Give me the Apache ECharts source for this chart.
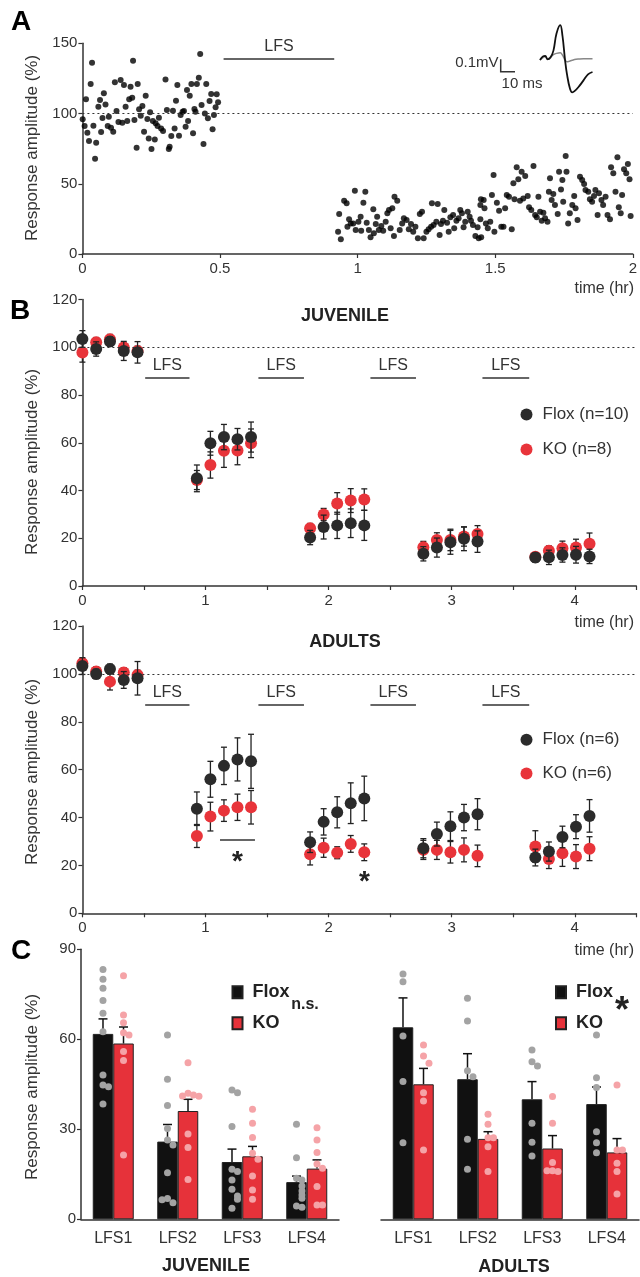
<!DOCTYPE html>
<html>
<head>
<meta charset="utf-8">
<script src="https://cdn.jsdelivr.net/npm/echarts@6/dist/echarts.min.js"></script>
<style>
  html, body { margin: 0; padding: 0; background: #fff; }
  #chart { width: 640px; height: 1277px; }
</style>
</head>
<body>
<div id="chart"></div>
<script>
// ---------- panel A: single experiment, [time (hr), amplitude (%)] ----------
const aBaseline = [
  [0.001,95.9],[0.008,91.1],[0.013,110.1],[0.018,86.3],[0.024,80.4],[0.030,121],[0.035,136.2],[0.040,91.3],
  [0.046,67.8],[0.050,79.2],[0.058,104.8],[0.064,109.6],[0.068,86.8],[0.073,96.8],[0.078,114.4],[0.084,106.5],
  [0.092,91.1],[0.096,97.7],[0.104,89.9],[0.112,87.0],[0.118,122.2],[0.124,101.8],[0.131,93.9],[0.139,123.8],
  [0.145,93.5],[0.151,120.3],[0.157,104.8],[0.163,94.7],[0.170,110.1],[0.175,119.1],[0.181,111.2],[0.184,137.6],
  [0.189,95.4],[0.197,75.7],[0.201,121],[0.206,103],[0.212,98.4],[0.218,105.3],[0.224,87],[0.230,112.7],
  [0.236,96.1],[0.241,82.3],[0.246,100.9],[0.251,74.7],[0.256,94.7],[0.263,81.6],[0.266,93],[0.273,91.1],
  [0.278,97],[0.286,89.4],[0.293,87.5],[0.302,124.3],[0.307,102.5],[0.314,74.7],[0.317,76.4],[0.323,84],
  [0.329,102],[0.335,89.4],[0.340,109.1],[0.345,120.3],[0.351,84.2],[0.357,98.9],[0.364,101.3],[0.369,101.8],
  [0.375,90.6],[0.380,116.7],[0.384,94.7],[0.390,112.7],[0.396,121],[0.402,85.9],[0.407,103.2],[0.411,101.3],
  [0.416,121],[0.423,125.5],[0.428,142.3],[0.433,106],[0.440,78.3],[0.445,100.1],[0.450,121],[0.456,96.6],
  [0.462,108.9],[0.468,113.9],[0.473,88.8],[0.478,98.9],[0.484,104.4],[0.488,113.7],[0.493,108]
];
const aAfter = [
  [0.933,28.5],[0.929,15.9],[0.939,10.5],[0.951,37.9],[0.960,36.1],[0.969,24.7],[0.975,21.8],[0.963,19.4],
  [0.990,45.1],[0.984,21.8],[0.993,17.1],[1.003,23],[1.011,26.5],[1.013,16.6],[1.021,36.5],[1.028,44.3],
  [1.033,22.3],[1.041,17.1],[1.047,11.9],[1.057,31.8],[1.059,14.7],[1.066,21.4],[1.071,26.5],[1.077,17.1],
  [1.086,19.9],[1.093,16.6],[1.102,23],[1.108,29],[1.114,31.3],[1.120,18.3],[1.126,32.5],[1.132,12.8],
  [1.134,40.8],[1.144,37.9],[1.153,17.1],[1.162,21.8],[1.168,25.4],[1.178,24.2],[1.186,17.6],[1.194,21.4],
  [1.202,15.9],[1.210,19.4],[1.219,11.2],[1.226,28.5],[1.234,30.1],[1.240,11.2],[1.250,15.9],[1.258,17.6],
  [1.267,19.4],[1.270,36.1],[1.276,20.6],[1.286,23],[1.291,35.6],[1.298,13.5],[1.303,21.4],[1.310,23.7],
  [1.315,31.3],[1.325,22.3],[1.331,15.9],[1.337,26.1],[1.347,27.8],[1.351,18.3],[1.359,23.7],[1.367,25.4],
  [1.373,31.3],[1.379,29],[1.385,19],[1.391,23],[1.400,30.1],[1.407,26.5],[1.412,23.7],[1.419,20.6],
  [1.428,12.8],[1.436,19],[1.440,11.2],[1.446,34.9],[1.448,38.9],[1.446,24.7],[1.449,11.9],[1.458,38.4],
  [1.461,32.5],[1.466,21.8],[1.473,18.3],[1.482,23],[1.488,42],[1.494,56.2],[1.497,15.9],[1.506,36.5],
  [1.514,30.8],[1.522,19.4],[1.530,19.4],[1.536,32.5],[1.542,42],[1.550,40.8],[1.560,17.6],[1.566,50.3],
  [1.570,38.9],[1.578,61.7],[1.584,53.2],[1.590,37.9],[1.596,58.6],[1.602,39.6],[1.609,55.5],[1.618,41.3],
  [1.623,33.2],[1.631,31.3],[1.639,62.6],[1.645,27.8],[1.651,26.1],[1.657,40.8],[1.663,30.1],[1.669,23.7],
  [1.675,29.4],[1.681,25.4],[1.690,23],[1.695,44.3],[1.699,53.9],[1.705,38.4],[1.711,42.7],[1.717,34.9],
  [1.727,28.5],[1.732,58.6],[1.739,46],[1.744,52.7],[1.747,37.2],[1.756,69.8],[1.759,58.6],[1.765,21.8],
  [1.771,29],[1.780,34.9],[1.787,41.3],[1.792,32.5],[1.799,24.2],[1.808,55],[1.816,52.7],[1.823,49.8],
  [1.828,45.6],[1.838,44.3],[1.844,38.9],[1.852,37.2],[1.859,41.3],[1.864,45.6],[1.872,27.8],[1.877,43.2],
  [1.886,38.4],[1.892,34.9],[1.901,40.8],[1.908,27.8],[1.917,24.7],[1.921,61.7],[1.929,57.4],[1.937,44.3],
  [1.944,68.8],[1.949,33.2],[1.956,29],[1.961,42],[1.968,60.3],[1.976,57.4],[1.982,64.1],[1.988,53.2],[1.992,27]
];
// example field potential traces (ms, mV)
const traceT     = [0, 2, 3.5, 5, 7, 9, 11, 13.5, 15, 16.7, 18, 20, 21.5, 23, 26, 29, 32, 35];
const traceBlack = [0, 0.03, 0.035, 0.005, 0.02, 0.08, 0.22, 0.29, 0.2, 0, -0.12, -0.24, -0.27, -0.26, -0.22, -0.17, -0.12, -0.1];
const traceGray  = [0, 0.02, 0.03, 0.01, 0.025, 0.045, 0.055, 0.06, 0.04, 0.0, -0.015, -0.008, -0.002, 0.004, 0.008, 0.01, 0.01, 0.01];

// ---------- panel B: group means +/- SEM ----------
const bTimes = [0, 0.112, 0.224, 0.336, 0.448, 0.93, 1.04, 1.15, 1.26, 1.37, 1.85, 1.96, 2.07, 2.18, 2.29,
                2.77, 2.88, 2.99, 3.10, 3.21, 3.68, 3.79, 3.90, 4.01, 4.12];
const juvFlox    = [103.5, 99.3, 102.4, 98.5, 97.9, 45.1, 59.8, 62.4, 61.5, 62.4, 20.3, 24.7, 25.4, 26.3, 25.4, 13.5, 16.1, 18.3, 19.8, 18.6, 11.9, 12.0, 13.0, 13.1, 12.4];
const juvFloxErr = [3.5, 3, 2, 4, 4.5, 5.6, 5, 5.3, 4.5, 6.3, 3, 5, 5.5, 6, 6.3, 3, 4, 5, 5, 4.5, 2, 3, 3, 3.5, 3];
const juvKO      = [97.8, 102.1, 103.4, 99.9, 98.5, 44.4, 50.7, 56.7, 56.8, 59.8, 24.2, 30.0, 34.6, 35.8, 36.2, 16.2, 19.3, 19.3, 20.7, 21.8, 12.3, 14.8, 15.8, 16.1, 17.7];
const juvKOErr   = [4, 2, 2, 2, 2, 4, 5.5, 7, 6, 6, 2, 2.5, 4.5, 5, 4.5, 2.5, 3, 4.5, 4, 3.5, 1.5, 2, 3, 3.5, 4.5];
const adFlox     = [103.3, 100.0, 102.1, 97.5, 98.2, 43.7, 56.0, 61.6, 64.3, 63.5, 29.7, 38.2, 42.2, 46.0, 48.0, 27.2, 33.1, 36.4, 40.0, 41.4, 23.3, 25.8, 31.9, 36.2, 40.7];
const adFloxErr  = [3.5, 2, 2, 3.5, 7, 7, 7.5, 7.8, 9, 11.3, 4.3, 5.5, 6.5, 8.5, 9.3, 4, 5, 6, 5.5, 6.5, 3.5, 4, 4.5, 5, 6.8];
const adKO       = [104.5, 101.0, 96.8, 100.6, 99.6, 32.3, 40.4, 42.9, 44.3, 44.3, 24.7, 27.4, 25.3, 29.0, 25.5, 26.5, 26.5, 25.5, 26.5, 24.0, 27.9, 22.7, 25.1, 23.7, 27.0];
const adKOErr    = [2, 2, 3.5, 2, 2, 4.8, 6, 4.5, 5.5, 7, 4.5, 4, 2.5, 3.5, 3.5, 4, 4, 4.5, 5, 4.5, 6.6, 4, 5.5, 5, 5];
const lfsStart = [0.51, 1.43, 2.34, 3.25];
const lfsEnd   = [0.87, 1.80, 2.71, 3.63];

// ---------- panel C: mean per LFS + individual slices ----------
const cCats = ['LFS1', 'LFS2', 'LFS3', 'LFS4'];
const cJuvFlox    = [61.8, 25.9, 19.1, 12.4];
const cJuvFloxErr = [5.0, 5.7, 4.3, 2.0];
const cJuvKO      = [58.6, 36.1, 21.0, 16.9];
const cJuvKOErr   = [5.5, 3.9, 3.3, 2.9];
const cAdFlox     = [64.0, 46.7, 40.0, 38.4];
const cAdFloxErr  = [9.8, 8.5, 5.9, 5.7];
const cAdKO       = [45.0, 26.8, 23.6, 22.3];
const cAdKOErr    = [5.3, 2.4, 4.3, 4.6];
const dotsJuvFlox = [
  [83.3, 80, 77, 72.9, 68.7, 62.5, 48.1, 44.8, 44.2, 38.4],
  [61.4, 46.7, 37.9, 30.3, 26.4, 24.8, 15.5, 6.9, 5.5, 6.5],
  [43.1, 42.2, 30.9, 16.7, 15.9, 13.1, 10, 7.8, 6.7, 3.7],
  [31.7, 20.5, 13.7, 13.1, 11.1, 9.4, 8.1, 7, 4.4, 4]
];
const dotsJuvKO = [
  [81.2, 68.1, 65.5, 62.2, 61.4, 55.9, 52.9, 21.4],
  [52.2, 42, 41.4, 41.1, 41, 28.4, 23.9, 13.3],
  [36.7, 32, 27.3, 22, 20, 14.4, 9.8, 6.7],
  [30.5, 26.4, 22.3, 18.4, 17, 10.9, 4.8, 4.8]
];
const dotsAdFlox = [
  [90.3, 81.8, 79.2, 61.1, 45.9, 25.5],
  [73.7, 66.1, 49.5, 47.5, 26.7, 16.7],
  [56.4, 52.5, 51.1, 32, 25.7, 21.1],
  [61.4, 47.2, 43.9, 29.2, 25.5, 22.2]
];
const dotsAdKO = [
  [58.1, 54.4, 52, 42.2, 39.4, 23.1],
  [35, 31.7, 27.2, 27.2, 24.2, 15.9],
  [40.9, 32, 18.9, 16.2, 15.9, 16.2],
  [44.8, 23.1, 23.1, 18.7, 15.9, 8.4]
];

// ---------- styling ----------
const FONT = "'Liberation Sans Narrow', 'Liberation Sans', Arial, sans-serif";
const INK = '#333';
const BLACK = '#2b2b2b';
const RED = '#e8343a';
const BAR_OFF = 0.159;   // half a bar, in category units of the value overlay axis

const axisLine = { lineStyle: { color: INK, width: 1.5 } };
const axisTick = { length: 4, lineStyle: { color: INK, width: 1.2 } };
const axisLabel = (margin) => ({ color: INK, fontSize: 15, fontFamily: FONT, margin: margin });

function valueX(grid, max, interval, fmt) {
  return { type: 'value', gridIndex: grid, min: 0, max: max, interval: interval,
    axisLine: axisLine, axisTick: axisTick, splitLine: { show: false },
    axisLabel: Object.assign(axisLabel(7), { formatter: fmt }) };
}
function valueY(grid, max, interval, show) {
  return { type: 'value', gridIndex: grid, min: 0, max: max, interval: interval, show: show !== false,
    axisLine: Object.assign({ show: true }, axisLine), axisTick: Object.assign({ show: true }, axisTick),
    splitLine: { show: false }, axisLabel: axisLabel(5) };
}

const dottedRef = {
  silent: true, symbol: 'none', label: { show: false },
  lineStyle: { color: INK, type: [2, 3], width: 1.2 },
  data: [{ yAxis: 100 }]
};

function errSeries(xi, yi, times, means, errs, color, z) {
  return {
    type: 'custom', xAxisIndex: xi, yAxisIndex: yi, z: z, silent: true,
    data: times.map((t, i) => [t, means[i], errs[i]]),
    renderItem: (params, api) => {
      const top = api.coord([api.value(0), api.value(1) + api.value(2)]);
      const bot = api.coord([api.value(0), api.value(1) - api.value(2)]);
      const st = { stroke: color, lineWidth: 1.3 };
      return { type: 'group', children: [
        { type: 'line', shape: { x1: top[0], y1: top[1], x2: bot[0], y2: bot[1] }, style: st },
        { type: 'line', shape: { x1: top[0] - 3, y1: top[1], x2: top[0] + 3, y2: top[1] }, style: st },
        { type: 'line', shape: { x1: bot[0] - 3, y1: bot[1], x2: bot[0] + 3, y2: bot[1] }, style: st }
      ] };
    }
  };
}

function lfsSeries(xi, yi, starts, ends, yVal) {
  return {
    type: 'custom', xAxisIndex: xi, yAxisIndex: yi, silent: true,
    data: starts.map((s, i) => [s, ends[i]]),
    renderItem: (params, api) => {
      const a = api.coord([api.value(0), yVal]);
      const b = api.coord([api.value(1), yVal]);
      return { type: 'group', children: [
        { type: 'line', shape: { x1: a[0], y1: a[1], x2: b[0], y2: b[1] }, style: { stroke: INK, lineWidth: 1.5 } },
        { type: 'text', x: (a[0] + b[0]) / 2, y: a[1] - 12,
          style: { text: 'LFS', fill: INK, font: '16px ' + FONT, textAlign: 'center', textVerticalAlign: 'middle' } }
      ] };
    }
  };
}

function cErr(xi, yi, means, errs, side) {
  return {
    type: 'custom', xAxisIndex: xi, yAxisIndex: yi, z: 3, silent: true,
    data: means.map((m, i) => [i + 0.5 + side * BAR_OFF, m, errs[i]]),
    renderItem: (params, api) => {
      const b = api.coord([api.value(0), api.value(1)]);
      const t = api.coord([api.value(0), api.value(1) + api.value(2)]);
      const st = { stroke: '#111', lineWidth: 1.5 };
      return { type: 'group', children: [
        { type: 'line', shape: { x1: b[0], y1: b[1], x2: t[0], y2: t[1] }, style: st },
        { type: 'line', shape: { x1: t[0] - 4.5, y1: t[1], x2: t[0] + 4.5, y2: t[1] }, style: st }
      ] };
    }
  };
}

// put overlapping slice dots side by side
function dotPoints(groups, side) {
  const out = [];
  groups.forEach((vals, i) => {
    const placed = [];
    vals.forEach(v => {
      const near = placed.filter(p => Math.abs(p - v) < 2.4).length;
      const k = near === 0 ? 0 : (near % 2 ? 1 : -1) * Math.ceil(near / 2);
      placed.push(v);
      out.push([i + 0.5 + side * BAR_OFF + k * 0.085, v]);
    });
  });
  return out;
}

function dotSeries(xi, yi, groups, side, color) {
  return { type: 'scatter', xAxisIndex: xi, yAxisIndex: yi, z: 4, silent: true,
    symbolSize: 7, itemStyle: { color: color, opacity: 1 }, data: dotPoints(groups, side) };
}

function cBars(xi, yi, name, vals, color) {
  return { type: 'bar', name: name, xAxisIndex: xi, yAxisIndex: yi, data: vals,
    barWidth: 20.5, barGap: '0%', z: 2,
    itemStyle: { color: color, borderColor: '#222', borderWidth: 1 } };
}

function catX(grid) {
  return { type: 'category', gridIndex: grid, data: cCats,
    axisLine: axisLine, axisTick: { show: false },
    axisLabel: Object.assign(axisLabel(11), { fontSize: 16 }) };
}

function txt(x, y, text, size, opts) {
  return Object.assign({ type: 'text', x: x, y: y, silent: true,
    style: Object.assign({ text: text, fill: INK, font: size + 'px ' + FONT,
      textAlign: 'center', textVerticalAlign: 'middle' }, (opts && opts.style) || {}) },
    opts && opts.rotation !== undefined ? { rotation: opts.rotation } : {});
}

const chart = echarts.init(document.getElementById('chart'), null, { renderer: 'canvas' });

const option = {
  animation: false,
  backgroundColor: '#fff',
  grid: [
    { left: 82.4, top: 43.3, width: 552.3, height: 210.7 },     // A
    { left: 82.4, top: 299.6, width: 553.9, height: 286.4 },    // B juvenile
    { left: 82.4, top: 626.1, width: 553.9, height: 287.2 },    // B adults
    { left: 81, top: 949.3, width: 258, height: 270 },          // C juvenile
    { left: 381, top: 949.3, width: 258, height: 270 },         // C adults
    { left: 540, top: 24, width: 52.5, height: 72 }             // example traces
  ],
  xAxis: [
    valueX(0, 2, 0.5),
    valueX(1, 4.5, 0.5, v => (v % 1 === 0 ? String(v) : '')),
    valueX(2, 4.5, 0.5, v => (v % 1 === 0 ? String(v) : '')),
    catX(3),
    { type: 'value', gridIndex: 3, min: 0, max: 4, show: false },
    catX(4),
    { type: 'value', gridIndex: 4, min: 0, max: 4, show: false },
    { type: 'value', gridIndex: 5, min: 0, max: 35, show: false }
  ],
  yAxis: [
    valueY(0, 150, 50),
    valueY(1, 120, 20),
    valueY(2, 120, 20),
    valueY(3, 90, 30),
    valueY(4, 90, 30, false),
    { type: 'value', gridIndex: 5, min: -0.3, max: 0.3, show: false }
  ],
  legend: [
    { left: 520.5, top: 406, orient: 'vertical', itemWidth: 12, itemHeight: 12, itemGap: 18, padding: 0,
      icon: 'circle', data: ['Flox (n=10)', 'KO (n=8)'], selectedMode: false,
      textStyle: { fontSize: 17, fontFamily: FONT, color: INK, padding: [0, 0, 0, 5] } },
    { left: 520.5, top: 731.3, orient: 'vertical', itemWidth: 12, itemHeight: 12, itemGap: 16.7, padding: 0,
      icon: 'circle', data: ['Flox (n=6)', 'KO (n=6)'], selectedMode: false,
      textStyle: { fontSize: 17, fontFamily: FONT, color: INK, padding: [0, 0, 0, 5] } },
    { left: 231.5, top: 983.3, orient: 'vertical', itemWidth: 10, itemHeight: 12, itemGap: 13, padding: 0,
      icon: 'rect', data: ['Flox', 'KO'], selectedMode: false,
      textStyle: { fontSize: 18, fontWeight: 'bold', fontFamily: FONT, color: '#222', padding: [0, 0, 0, 5] } },
    { left: 555, top: 983.3, orient: 'vertical', itemWidth: 10, itemHeight: 12, itemGap: 13, padding: 0,
      icon: 'rect', data: ['Flox', 'KO'], selectedMode: false,
      textStyle: { fontSize: 18, fontWeight: 'bold', fontFamily: FONT, color: '#222', padding: [0, 0, 0, 5] } }
  ],
  series: [
    // ---- A ----
    { type: 'scatter', xAxisIndex: 0, yAxisIndex: 0, symbolSize: 6, silent: true,
      itemStyle: { color: '#000' }, data: aBaseline.concat(aAfter), markLine: dottedRef },
    lfsSeries(0, 0, [0.513], [0.915], 138.8),
    { type: 'line', xAxisIndex: 7, yAxisIndex: 5, smooth: 0.4, symbol: 'none', silent: true,
      lineStyle: { color: '#888', width: 1.5 }, data: traceT.map((t, i) => [t, traceGray[i]]) },
    { type: 'line', xAxisIndex: 7, yAxisIndex: 5, smooth: 0.4, symbol: 'none', silent: true,
      lineStyle: { color: '#111', width: 1.8 }, data: traceT.map((t, i) => [t, traceBlack[i]]) },

    // ---- B juvenile ----
    errSeries(1, 1, bTimes, juvKO, juvKOErr, '#222', 2),
    { type: 'scatter', name: 'KO (n=8)', xAxisIndex: 1, yAxisIndex: 1, symbolSize: 12, z: 3,
      itemStyle: { color: RED, opacity: 1 }, data: bTimes.map((t, i) => [t, juvKO[i]]), markLine: dottedRef },
    errSeries(1, 1, bTimes, juvFlox, juvFloxErr, '#222', 4),
    { type: 'scatter', name: 'Flox (n=10)', xAxisIndex: 1, yAxisIndex: 1, symbolSize: 12, z: 5,
      itemStyle: { color: BLACK, opacity: 1 }, data: bTimes.map((t, i) => [t, juvFlox[i]]) },
    lfsSeries(1, 1, lfsStart, lfsEnd, 87.2),

    // ---- B adults ----
    errSeries(2, 2, bTimes, adKO, adKOErr, '#222', 2),
    { type: 'scatter', name: 'KO (n=6)', xAxisIndex: 2, yAxisIndex: 2, symbolSize: 12, z: 3,
      itemStyle: { color: RED, opacity: 1 }, data: bTimes.map((t, i) => [t, adKO[i]]), markLine: dottedRef },
    errSeries(2, 2, bTimes, adFlox, adFloxErr, '#222', 4),
    { type: 'scatter', name: 'Flox (n=6)', xAxisIndex: 2, yAxisIndex: 2, symbolSize: 12, z: 5,
      itemStyle: { color: BLACK, opacity: 1 }, data: bTimes.map((t, i) => [t, adFlox[i]]) },
    lfsSeries(2, 2, lfsStart, lfsEnd, 87.0),
    { type: 'custom', xAxisIndex: 2, yAxisIndex: 2, silent: true, data: [[1.118, 1.402, 30.6]],
      renderItem: (params, api) => {
        const a = api.coord([api.value(0), api.value(2)]);
        const b = api.coord([api.value(1), api.value(2)]);
        return { type: 'line', shape: { x1: a[0], y1: a[1], x2: b[0], y2: b[1] }, style: { stroke: INK, lineWidth: 1.5 } };
      } },

    // ---- C juvenile ----
    cBars(3, 3, 'Flox', cJuvFlox, '#111'),
    cBars(3, 3, 'KO', cJuvKO, '#e6323a'),
    cErr(4, 3, cJuvFlox, cJuvFloxErr, -1),
    cErr(4, 3, cJuvKO, cJuvKOErr, 1),
    dotSeries(4, 3, dotsJuvFlox, -1, '#a3a3a3'),
    dotSeries(4, 3, dotsJuvKO, 1, '#f5a3a7'),

    // ---- C adults ----
    cBars(5, 4, 'Flox', cAdFlox, '#111'),
    cBars(5, 4, 'KO', cAdKO, '#e6323a'),
    cErr(6, 4, cAdFlox, cAdFloxErr, -1),
    cErr(6, 4, cAdKO, cAdKOErr, 1),
    dotSeries(6, 4, dotsAdFlox, -1, '#a3a3a3'),
    dotSeries(6, 4, dotsAdKO, 1, '#f5a3a7')
  ],
  graphic: [
    // panel letters
    txt(21, 22, 'A', 28, { style: { fill: '#000', font: 'bold 28px ' + FONT } }),
    txt(20, 311, 'B', 28, { style: { fill: '#000', font: 'bold 28px ' + FONT } }),
    txt(21, 951, 'C', 28, { style: { fill: '#000', font: 'bold 28px ' + FONT } }),
    // axis titles
    txt(32, 148, 'Response amplitude (%)', 17, { rotation: Math.PI / 2 }),
    txt(32, 462, 'Response amplitude (%)', 17, { rotation: Math.PI / 2 }),
    txt(32, 772, 'Response amplitude (%)', 17, { rotation: Math.PI / 2 }),
    txt(32, 1087, 'Response amplitude (%)', 17, { rotation: Math.PI / 2 }),
    txt(634, 289, 'time (hr)', 16, { style: { textAlign: 'right' } }),
    txt(634, 623, 'time (hr)', 16, { style: { textAlign: 'right' } }),
    txt(634, 951, 'time (hr)', 16, { style: { textAlign: 'right' } }),
    // titles
    txt(345, 316, 'JUVENILE', 18, { style: { fill: '#222', font: 'bold 18px ' + FONT } }),
    txt(345, 642, 'ADULTS', 18, { style: { fill: '#222', font: 'bold 18px ' + FONT } }),
    txt(206, 1266, 'JUVENILE', 18, { style: { fill: '#222', font: 'bold 18px ' + FONT } }),
    txt(514, 1267, 'ADULTS', 18, { style: { fill: '#222', font: 'bold 18px ' + FONT } }),
    // significance marks
    txt(237.5, 862, '*', 28, { style: { fill: '#222', font: 'bold 28px ' + FONT } }),
    txt(364.5, 882, '*', 28, { style: { fill: '#222', font: 'bold 28px ' + FONT } }),
    txt(305, 1005, 'n.s.', 16, { style: { fill: '#222', font: 'bold 16px ' + FONT } }),
    txt(622, 1012, '*', 36, { style: { fill: '#222', font: 'bold 36px ' + FONT } }),
    // scale bar for the traces
    { type: 'polyline', silent: true, shape: { points: [[500.7, 59.3], [500.7, 71.7], [515, 71.7]] },
      style: { stroke: INK, lineWidth: 1.5, fill: null } },
    txt(498.5, 63, '0.1mV', 15, { style: { textAlign: 'right' } }),
    txt(522, 84, '10 ms', 15)
  ]
};

chart.setOption(option);
</script>
</body>
</html>
